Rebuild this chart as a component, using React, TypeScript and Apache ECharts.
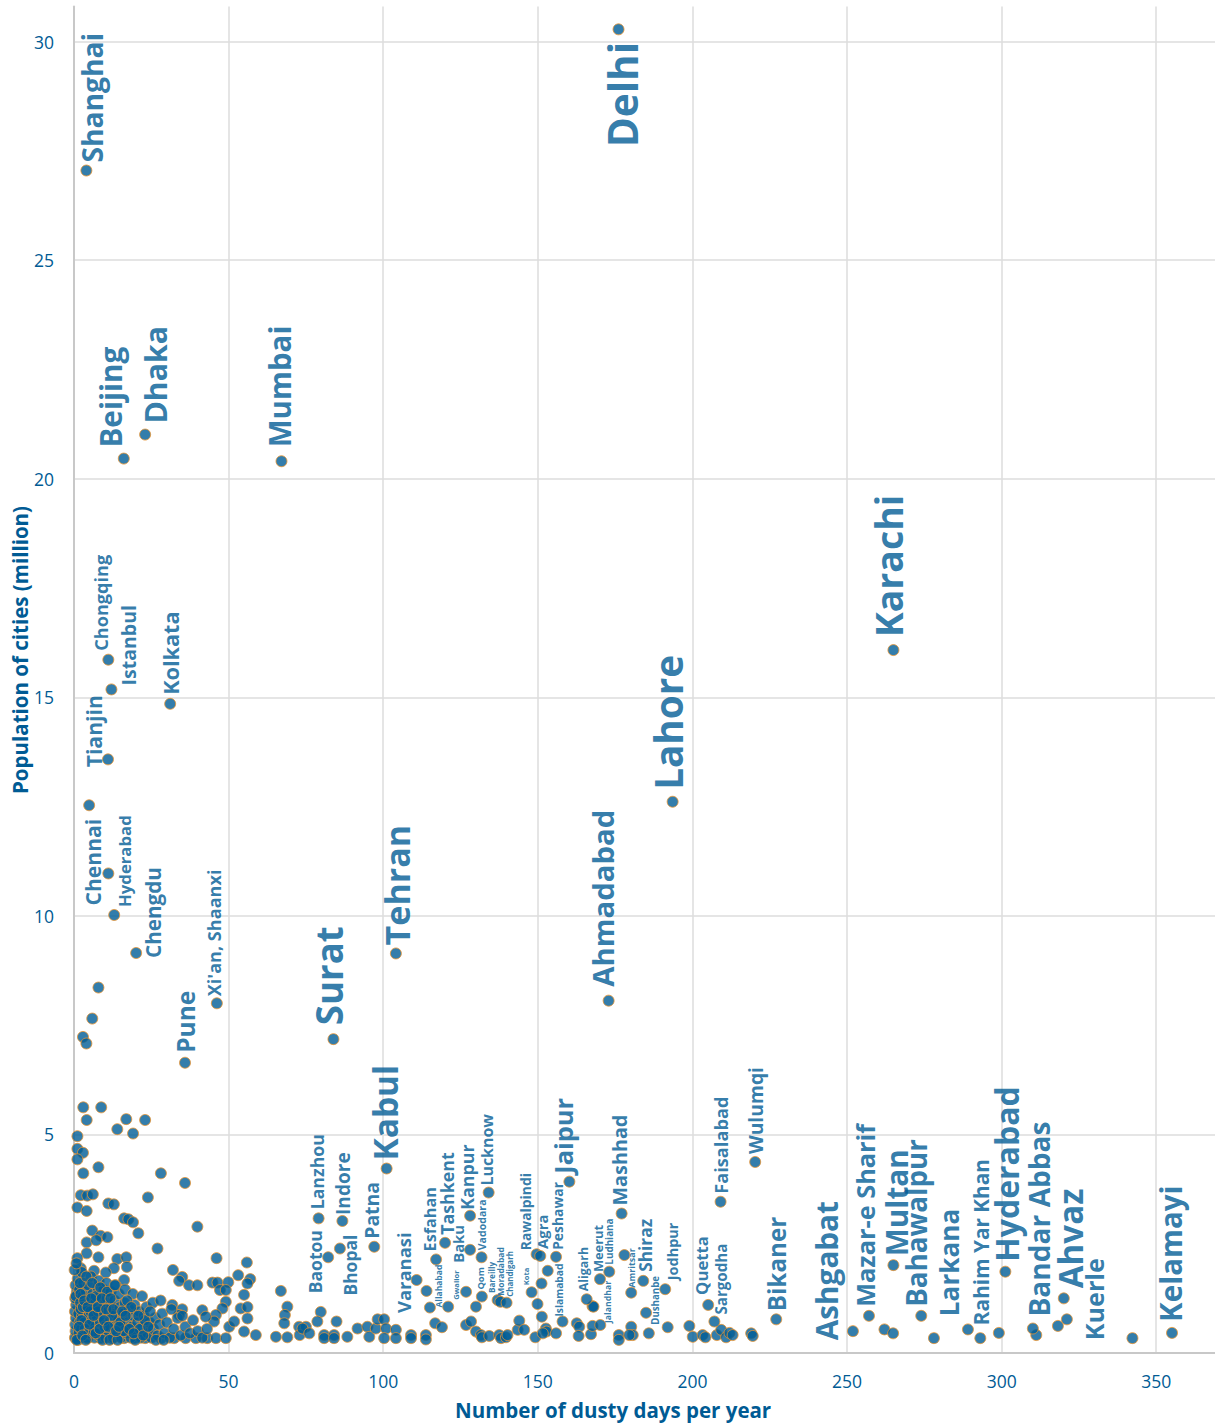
import React, { useEffect, useRef } from "react";
import * as echarts from "echarts";

// ---------- DATA ----------
const cityNames = [
  "Shanghai", "Delhi", "Beijing", "Dhaka", "Mumbai", "Chongqing", "Istanbul", "Kolkata", "Tianjin", "Chennai",
  "Hyderabad", "Chengdu", "Xi'an, Shaanxi", "Pune", "Surat", "Tehran", "Ahmadabad", "Lahore", "Karachi", "Kabul",
  "Lanzhou", "Baotou", "Indore", "Bhopal", "Patna", "Varanasi", "Esfahan", "Tashkent", "Allahabad", "Gwalior",
  "Baku", "Kanpur", "Lucknow", "Vadodara", "Qom", "Bareilly", "Moradabad", "Chandigarh", "Kota", "Rawalpindi",
  "Agra", "Peshawar", "Islamabad", "Jaipur", "Aligarh", "Meerut", "Ludhiana", "Jalandhar", "Mashhad", "Amritsar",
  "Shiraz", "Dushanbe", "Jodhpur", "Quetta", "Sargodha", "Faisalabad", "Wulumqi", "Bikaner", "Ashgabat", "Mazar-e Sharif",
  "Multan", "Bahawalpur", "Larkana", "Rahim Yar Khan", "Hyderabad", "Bandar Abbas", "Ahvaz", "Kuerle", "Kelamayi",
];
const cityDays = [
  4.0, 176.1, 16.1, 23.0, 67.1, 11.1, 12.1, 31.1, 11.0, 11.1,
  13.0, 20.1, 46.2, 35.9, 83.9, 104.1, 172.9, 193.6, 265.0, 101.1,
  79.1, 82.2, 86.8, 86.0, 97.1, 110.8, 117.1, 120.0, 115.1, 121.0,
  128.1, 128.1, 134.1, 131.8, 131.9, 137.0, 137.9, 139.9, 148.0, 149.6,
  150.8, 155.9, 158.0, 160.2, 165.8, 170.1, 173.1, 170.2, 177.1, 180.2,
  184.1, 185.0, 191.2, 205.1, 207.1, 209.1, 220.3, 227.1, 251.9, 257.1,
  265.0, 274.0, 278.1, 293.1, 301.2, 310.1, 320.1, 321.1, 355.1,
];
const cityPopulation = [
  27.05, 30.28, 20.46, 21.01, 20.40, 15.86, 15.18, 14.85, 13.58, 10.97,
  10.02, 9.15, 8.00, 6.64, 7.18, 9.14, 8.06, 12.61, 16.08, 4.22,
  3.08, 2.19, 3.02, 2.39, 2.43, 1.67, 2.14, 2.52, 1.04, 1.06,
  2.36, 3.14, 3.67, 2.19, 1.29, 1.21, 1.17, 1.15, 1.39, 2.26,
  2.22, 2.20, 0.72, 3.92, 1.23, 1.69, 1.86, 0.64, 3.19, 1.38,
  1.65, 0.92, 1.46, 1.10, 0.72, 3.46, 4.37, 0.77, 0.50, 0.85,
  2.01, 0.85, 0.34, 0.34, 1.86, 0.56, 1.25, 0.77, 0.46,
];

const otherDays = [
  4.9, 7.9, 5.9, 2.9, 4.0,
  3.0, 8.8, 4.1, 16.9, 23.0, 14.0, 19.1, 1.1, 1.1, 2.9, 1.1, 7.9, 3.0, 28.1, 35.9,
  2.2, 4.3, 6.1, 23.9, 11.1, 12.9, 1.1, 4.1, 16.2, 17.6, 19.1, 20.8, 39.9, 5.9, 8.6,
  10.8, 4.1, 7.2, 27.0, 4.1, 1.1, 7.9, 14.0, 16.9, 17.1, 46.1, 55.9, 2.2, 12.9, 10.3,
  6.5, 32.0, 35.0, 34.0, 53.1, 57.0, 56.1, 55.0, 16.2, 44.8, 46.4, 49.9, 47.2, 49.1, 37.2,
  39.9, 66.9, 69.0, 68.2, 68.0, 53.9, 56.1, 56.1, 49.1, 48.0, 45.9, 45.3, 31.8, 35.0, 34.0,
  41.5, 42.6,
  1.1, 4.3, 8.6, 12.4, 16.2, 19.4, 23.0, 28.1, 32.4, 36.1, 39.4, 43.1, 45.9, 49.1,
  55.0, 58.8, 65.3, 69.0, 72.8, 75.0, 73.0, 50.2, 51.8,
  79.8, 78.7, 84.9, 73.9, 76.1, 80.9, 84.1, 80.9, 84.1, 88.4, 91.7, 94.9, 95.5, 97.6, 98.2,
  100.3, 100.9, 100.3, 104.1, 104.1, 109.0, 109.0, 113.8, 113.8, 114.0, 116.8, 119.0, 126.8, 130.0, 126.8,
  128.4, 130.0, 131.6, 131.9, 134.3, 137.5, 138.1, 139.7, 140.2, 143.5, 144.0, 145.6, 149.2, 151.2, 149.9,
  151.3, 153.2, 152.6, 152.8, 151.6, 155.9, 162.6, 163.4, 163.2, 167.7, 167.2, 167.7,
  168.0, 176.2, 176.2, 178.0, 180.2, 180.7, 179.6, 185.9, 192.0, 199.0, 200.1, 203.3, 204.2, 207.9, 209.3,
  210.9, 212.0, 213.0, 219.0, 219.5,
  262.1, 264.9, 289.1, 299.1, 311.2, 318.2, 342.3,
  0.3, 0.5, 0.4, 0.6, 0.3, 0.7, 0.4, 0.9, 0.5, 1.2, 0.6, 1.5, 1.8, 1.4, 2.0, 1.7, 2.3, 2.6, 2.2, 2.8,
  3.2, 3.4, 3.0, 3.6, 3.9,
  4.2, 4.5, 4.8, 5.1, 4.6, 5.5, 5.8, 6.2, 6.0, 6.6, 6.9, 7.3, 7.0, 7.6, 8.0, 8.3, 8.7, 8.4, 9.1, 9.4,
  9.8, 9.5, 10.2, 10.5, 10.9, 10.6,
  11.3, 11.7, 12.1, 11.9, 12.6, 13.0, 13.4, 13.1, 14.0, 14.3, 14.8, 14.5, 15.3, 15.7, 16.0, 16.4, 17.0, 17.4, 17.8, 18.3,
  18.7, 19.2, 19.6, 20.1, 20.5,
  21.0, 21.6, 22.1, 22.6, 23.4, 23.8, 24.4, 25.0, 25.6, 26.2, 27.0, 27.6, 28.5, 29.3, 30.0, 31.0, 32.2, 33.5, 34.5, 36.0,
  37.5, 38.5, 40.0, 41.5, 43.0,
  2.5, 5.5, 8.0, 10.5, 13.5, 16.5, 19.0, 22.0, 25.5, 28.0, 31.5, 35.0,
  0.2, 0.8, 1.3, 1.9, 2.4, 2.9, 3.5, 4.0, 4.7, 5.3, 5.9, 6.4, 7.1, 7.8, 8.5, 9.2, 9.9, 10.7, 11.5, 12.3,
  13.2, 14.1, 15.0, 16.1, 17.2, 18.5, 19.8, 21.3, 22.9, 24.6,
  0.9, 1.6, 2.1, 2.7, 3.3, 3.8, 4.4, 5.0, 5.6, 6.3, 7.0, 7.7, 8.3, 9.0, 9.7, 10.4, 11.1, 11.8, 12.7, 13.6,
  14.6, 15.6, 16.7, 17.9, 19.3, 20.8, 22.4, 24.0, 26.5, 29.0,
];
const otherPopulation = [
  12.53, 8.36, 7.65, 7.23, 7.08,
  5.62, 5.62, 5.33, 5.35, 5.33, 5.12, 5.02, 4.96, 4.67, 4.58, 4.43, 4.25, 4.11, 4.11, 3.89,
  3.61, 3.60, 3.63, 3.56, 3.42, 3.40, 3.33, 3.25, 3.08, 3.06, 2.99, 2.74, 2.89, 2.80, 2.68,
  2.65, 2.53, 2.58, 2.39, 2.28, 2.17, 2.19, 2.15, 2.19, 1.97, 2.17, 2.07, 1.94, 1.94, 1.84,
  1.88, 1.90, 1.74, 1.65, 1.78, 1.69, 1.59, 1.33, 1.67, 1.61, 1.61, 1.62, 1.44, 1.44, 1.55,
  1.55, 1.42, 1.06, 0.87, 0.68, 1.02, 1.05, 0.79, 1.17, 1.02, 0.87, 0.72, 1.10, 1.00, 0.87,
  0.98, 0.83,
  0.34, 0.34, 0.34, 0.34, 0.34, 0.34, 0.34, 0.34, 0.34, 0.34, 0.34, 0.34, 0.34, 0.34,
  0.49, 0.41, 0.37, 0.36, 0.60, 0.60, 0.41, 0.60, 0.72,
  0.94, 0.72, 0.72, 0.56, 0.45, 0.41, 0.41, 0.34, 0.34, 0.37, 0.56, 0.60, 0.37, 0.56, 0.77,
  0.77, 0.56, 0.34, 0.53, 0.34, 0.41, 0.34, 0.41, 0.31, 1.42, 0.68, 0.59, 1.40, 1.06, 0.64,
  0.72, 0.49, 0.41, 0.36, 0.39, 0.41, 0.34, 0.36, 0.41, 0.53, 0.74, 0.53, 0.36, 1.59, 1.12,
  0.83, 1.88, 0.56, 0.49, 0.45, 0.45, 0.68, 0.60, 0.39, 1.07, 0.43, 0.62,
  1.06, 0.41, 0.30, 2.24, 0.60, 0.41, 0.41, 0.45, 0.59, 0.62, 0.37, 0.41, 0.36, 0.41, 0.53,
  0.36, 0.46, 0.41, 0.45, 0.39,
  0.54, 0.45, 0.54, 0.46, 0.41, 0.62, 0.34,
  0.35, 0.50, 0.65, 0.80, 0.95, 1.10, 1.25, 1.40, 1.55, 1.70, 1.30, 0.45, 0.70, 0.90, 1.15, 1.45, 0.55, 0.85, 1.00, 1.30,
  0.40, 0.70, 1.60, 1.05, 1.40,
  0.35, 0.60, 0.90, 1.20, 1.55, 0.45, 0.75, 1.00, 1.35, 0.35, 0.60, 0.85, 1.15, 1.50, 0.40, 0.70, 1.00, 1.30, 0.50, 0.80,
  1.10, 1.45, 0.35, 0.65, 0.95, 1.25,
  0.45, 0.75, 1.05, 1.40, 0.35, 0.60, 0.90, 1.20, 0.45, 0.75, 1.05, 1.35, 0.35, 0.60, 0.90, 1.15, 0.45, 0.70, 1.00, 0.35,
  0.60, 0.85, 1.10, 0.45, 0.70,
  0.95, 0.35, 0.60, 0.85, 1.05, 0.45, 0.70, 0.35, 0.55, 0.80, 0.40, 0.65, 0.90, 0.45, 0.70, 0.35, 0.55, 0.80, 0.40, 0.60,
  0.45, 0.75, 0.50, 0.35, 0.55,
  1.85, 1.75, 1.65, 1.60, 1.55, 1.45, 1.35, 1.30, 1.15, 1.20, 1.00, 0.85,
  1.90, 2.05, 0.30, 1.60, 0.75, 1.05, 0.55, 1.75, 0.45, 0.95, 1.60, 0.50, 1.30, 0.95, 1.50, 0.30, 0.60, 1.40, 0.30, 0.85,
  1.55, 0.30, 0.70, 0.50, 1.20, 1.05, 0.30, 0.55, 0.75, 0.95,
  0.30, 0.60, 1.35, 0.40, 1.20, 0.30, 1.05, 0.65, 1.25, 0.85, 0.45, 1.05, 0.55, 1.25, 0.75, 1.00, 0.60, 1.25, 1.00, 0.50,
  0.60, 0.95, 0.85, 0.55, 0.45, 0.85, 0.40, 0.60, 0.30, 0.30,
];

const xTickValues = [0, 50, 100, 150, 200, 250, 300, 350];
const yTickValues = [0, 5, 10, 15, 20, 25, 30];

// ---------- LABEL STYLE (not data) ----------
const labelFontSize = [
  28.5, 41, 30, 30.6, 29.8, 18.3, 19.7, 21.9, 21.4, 21.3,
  16.9, 20.9, 18.3, 24.7, 37, 34.4, 29.6, 39, 37.8, 33.8,
  17.9, 17.7, 19.3, 17.6, 19.6, 18.6, 16.4, 18, 8.6, 7.7,
  15, 18, 16.1, 10.7, 9.5, 8.3, 8.6, 8, 7.7, 14,
  15, 14, 10.3, 25.6, 12.5, 13, 10, 8.8, 20, 9,
  17.5, 9.8, 14.6, 16.9, 15.3, 18.4, 19.5, 24.5, 30, 25.6,
  30, 28, 26.4, 21, 32.3, 28.4, 33.5, 25.5, 29.8,
];
const FONT_SCALE = 0.99;
// screen shift (px, right / down) of the label's starting end relative to its point
const labelShift = [
  [6, -8], [4, 118], [-13, -11], [10, -11], [-2, -14], [-7, -9], [17, -4], [0, -9], [-15, 8], [-16, 32],
  [10, -8], [17, 5], [-3, -7], [0, -10], [-4, -14], [1, -8], [-6, -14], [-5, -12], [-5, -13], [-2, -8],
  [-2, -9], [-13, 36], [1, -6], [10, 47], [-3, -8], [-13, 33], [-6, -8], [2, -8], [9, 0], [8, -7],
  [-12, 13], [-3, -6], [-1.5, -7], [0, -7], [-1, -7], [-6.5, -7], [0, -6], [3, -6], [-6, -7], [-11, -4],
  [2, -7], [1, -7], [-4, -5], [-6, -8], [-3, -8], [-2, -7], [0, -7], [8, -2], [-2, -8], [0, -5],
  [2, -9], [9.5, 12], [7, -9], [-7, -10], [7, -7], [0, -8], [0, -8], [0, -8], [-26, 9], [-4, -9],
  [3, -9], [-5, -9], [15.5, -22], [1, -13], [1, -10], [6, -12], [7, -10], [27, 21], [-2, -11],
];

const BLUE = "#005b94";
const FONT = "'Open Sans', 'Noto Sans', sans-serif";

export default function App() {
  const ref = useRef<HTMLDivElement>(null);

  useEffect(() => {
    const chart = echarts.init(ref.current as HTMLDivElement, null, { renderer: "svg" });

    const labelled = cityNames.map((name, i) => ({
      name,
      value: [cityDays[i], cityPopulation[i]],
      label: { fontSize: labelFontSize[i] * FONT_SCALE },
    }));
    const others = otherDays.map((d, i) => [d, otherPopulation[i]]);

    const itemStyle = { color: "#005d96", borderColor: "#ea9430", borderWidth: 1 };

    chart.setOption({
      animation: false,
      backgroundColor: "#ffffff",
      grid: { left: 74, right: 0, top: 6.6, bottom: 73, containLabel: false },
      xAxis: {
        type: "value",
        min: 0,
        max: 369,
        interval: 50,
        axisLine: { show: true, lineStyle: { color: "#c8c8c8", width: 2 } },
        axisTick: { show: false },
        splitLine: { show: true, showMaxLine: false, lineStyle: { color: "#dcdcdc", width: 1.5 } },
        axisLabel: {
          color: BLUE,
          fontFamily: FONT,
          fontSize: 17.5,
          margin: 19,
          showMaxLabel: false,
          formatter: (v: number) => (xTickValues.includes(v) ? String(v) : ""),
        },
      },
      yAxis: {
        type: "value",
        min: 0,
        max: 30.8,
        interval: 5,
        axisLine: { show: true, lineStyle: { color: "#c8c8c8", width: 2 } },
        axisTick: { show: false },
        splitLine: { show: true, showMaxLine: false, lineStyle: { color: "#dcdcdc", width: 1.5 } },
        axisLabel: {
          color: BLUE,
          fontFamily: FONT,
          fontSize: 17.5,
          margin: 20,
          showMaxLabel: false,
          formatter: (v: number) => (yTickValues.includes(v) ? String(v) : ""),
        },
      },
      graphic: [
        {
          type: "text",
          left: 455,
          top: 1399,
          style: {
            text: "Number of dusty days per year",
            fill: BLUE,
            font: `bold 20.5px ${FONT}`,
          },
        },
        {
          type: "text",
          x: 20,
          y: 650,
          rotation: Math.PI / 2,
          style: {
            text: "Population of cities (million)",
            fill: BLUE,
            font: `bold 20.5px ${FONT}`,
            align: "center",
            verticalAlign: "middle",
            textAlign: "center",
            textVerticalAlign: "middle",
          },
        },
      ],
      series: [
        {
          type: "scatter",
          symbolSize: 11,
          itemStyle,
          data: others,
          z: 2,
        },
        {
          type: "scatter",
          symbolSize: 11,
          itemStyle,
          data: labelled,
          z: 3,
          label: {
            show: true,
            formatter: "{b}",
            position: "inside",
            rotate: 90,
            align: "left",
            verticalAlign: "middle",
            color: BLUE,
            fontFamily: FONT,
            fontWeight: "bold",
          },
          // labelLayout's dx/dy act in the label's rotated frame
          labelLayout: (params: any) => {
            const s = labelShift[params.dataIndex] || [0, 0];
            return { dx: -s[1], dy: s[0], hideOverlap: false };
          },
        },
      ],
    });

    return () => chart.dispose();
  }, []);

  return (
    <div
      ref={ref}
      style={{ position: "absolute", left: 0, top: 0, width: 1215, height: 1426 }}
    />
  );
}
